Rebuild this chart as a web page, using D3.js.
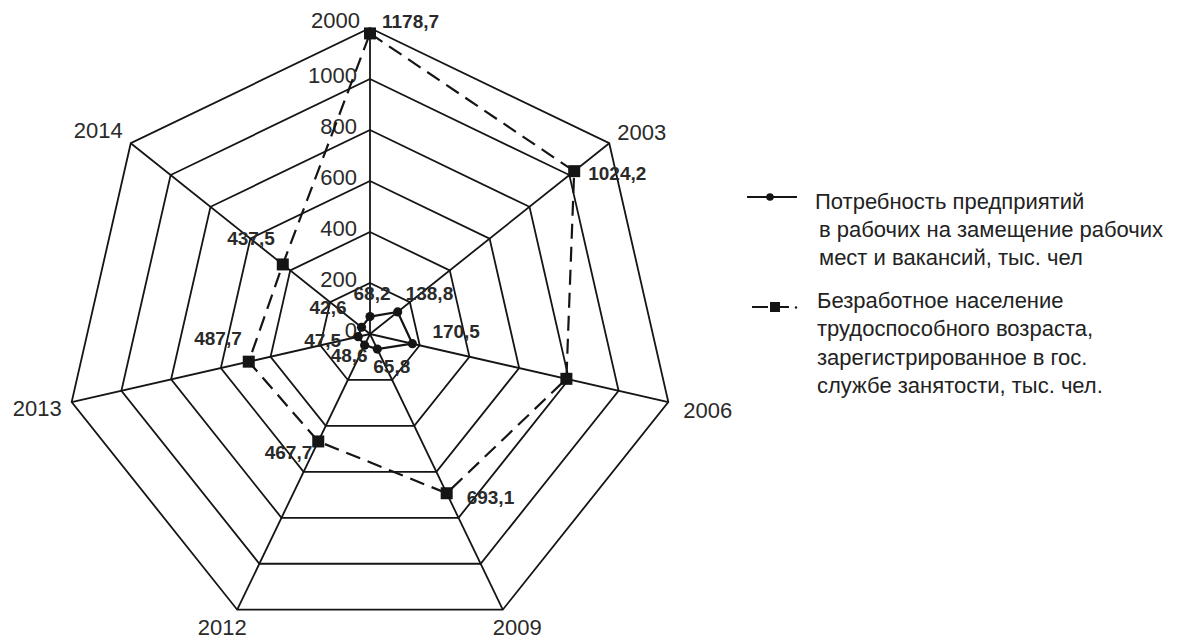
<!DOCTYPE html>
<html lang="ru">
<head>
<meta charset="utf-8">
<script src="https://cdn.jsdelivr.net/npm/d3@7"></script>
<style>
  html, body { margin: 0; padding: 0; background: #fff; }
  svg { display: block; font-family: "Liberation Sans", Arial, sans-serif; }
</style>
</head>
<body>
<svg id="chart" width="1179" height="639"></svg>
<script>
// Years on the radar spokes, clockwise from the top
const years = ["2000", "2003", "2006", "2009", "2012", "2013", "2014"];

// Demand of enterprises for workers, thousand people
const demand = [68.2, 138.8, 170.5, 65.8, 48.6, 47.5, 42.6];
const demandLabels = ["68,2", "138,8", "170,5", "65,8", "48,6", "47,5", "42,6"];

// Registered unemployed of working age, thousand people
const unemployed = [1178.7, 1024.2, 790, 693.1, 467.7, 487.7, 437.5];
const unemployedLabels = ["1178,7", "1024,2", "", "693,1", "467,7", "487,7", "437,5"];

// Radial axis
const ringValues = [200, 400, 600, 800, 1000, 1200];
const ringLabels = ["0", "200", "400", "600", "800", "1000"];
const ringLabelValues = [0, 200, 400, 600, 800, 1000];

const legendDemand = ["Потребность предприятий", "в рабочих на замещение рабочих", "мест и вакансий, тыс. чел"];
const legendUnemployed = ["Безработное население", "трудоспособного возраста,", "зарегистрированное в гос.", "службе занятости, тыс. чел."];

// ---- layout ----
const cx = 370, cy = 334, R = 306;
const ink = "#151515";
const svg = d3.select("#chart");

const r = d3.scaleLinear().domain([0, 1200]).range([0, R]);
const angle = d3.scalePoint().domain(years).range([0, 2 * Math.PI * (years.length - 1) / years.length]);

function pt(year, v) {
  const a = angle(year);
  return [cx + r(v) * Math.sin(a), cy - r(v) * Math.cos(a)];
}

const g = svg.append("g");

// concentric heptagons
const ringLine = d3.line();
g.selectAll("path.ring").data(ringValues).join("path")
  .attr("class", "ring")
  .attr("d", v => ringLine(years.map(y => pt(y, v))) + "Z")
  .attr("fill", "none").attr("stroke", ink).attr("stroke-width", 1.8)
  .attr("stroke-linejoin", "miter");

// spokes
g.selectAll("line.spoke").data(years).join("line")
  .attr("class", "spoke")
  .attr("x1", cx).attr("y1", cy)
  .attr("x2", y => pt(y, 1200)[0]).attr("y2", y => pt(y, 1200)[1])
  .attr("stroke", ink).attr("stroke-width", 1.8);

// radial tick labels along the top spoke
g.selectAll("text.ring-label").data(ringLabelValues).join("text")
  .attr("class", "ring-label")
  .attr("x", cx - 13)
  .attr("y", v => cy - r(v) + 4)
  .attr("text-anchor", "end")
  .attr("font-size", 22)
  .attr("fill", "#2a2a2a")
  .text((v, i) => ringLabels[i]);

// year labels at spoke ends
const yearOffsets = [[-10, 0, "end"], [8, -3, "start"], [15, 16, "start"], [-10, 25, "start"], [-15, 25, "middle"], [-10, 14, "end"], [-8, -5, "end"]];
g.selectAll("text.year").data(years).join("text")
  .attr("class", "year")
  .attr("x", (y, i) => pt(y, 1200)[0] + yearOffsets[i][0])
  .attr("y", (y, i) => pt(y, 1200)[1] + yearOffsets[i][1])
  .attr("text-anchor", (y, i) => yearOffsets[i][2])
  .attr("font-size", 22)
  .attr("fill", "#2a2a2a")
  .text(y => y);

// unemployed series: dashed polygon with square markers
const unemployedPts = years.map((y, i) => pt(y, unemployed[i]));
g.append("path")
  .attr("d", d3.line()(unemployedPts) + "Z")
  .attr("fill", "none").attr("stroke", ink).attr("stroke-width", 2.2)
  .attr("stroke-dasharray", "15,8");

// demand series: solid polygon with dots
const demandPts = years.map((y, i) => pt(y, demand[i]));
g.append("path")
  .attr("d", d3.line()(demandPts) + "Z")
  .attr("fill", "none").attr("stroke", ink).attr("stroke-width", 2.2);

g.selectAll("rect.sq").data(unemployedPts).join("rect")
  .attr("class", "sq")
  .attr("x", d => d[0] - 6).attr("y", d => d[1] - 6)
  .attr("width", 12).attr("height", 12)
  .attr("fill", ink);

g.selectAll("circle.dot").data(demandPts).join("circle")
  .attr("class", "dot")
  .attr("cx", d => d[0]).attr("cy", d => d[1]).attr("r", 4.6)
  .attr("fill", ink);

// value labels
const unemployedLabelOffsets = [[12, -5, "start"], [14, 9, "start"], [0, 0, "start"], [20, 11, "start"], [-6, 18, "end"], [-7, -17, "end"], [-8, -19, "end"]];
g.selectAll("text.ulabel").data(unemployedPts).join("text")
  .attr("class", "ulabel")
  .attr("x", (d, i) => d[0] + unemployedLabelOffsets[i][0])
  .attr("y", (d, i) => d[1] + unemployedLabelOffsets[i][1])
  .attr("text-anchor", (d, i) => unemployedLabelOffsets[i][2])
  .attr("font-size", 19).attr("font-weight", "bold")
  .attr("fill", "#2a2a2a")
  .text((d, i) => unemployedLabels[i]);

const demandLabelOffsets = [[2, -17, "middle"], [8, -12, "start"], [20, -6, "start"], [-4, 24, "start"], [3, 17, "end"], [-17, 10, "end"], [-15, -13, "end"]];
g.selectAll("text.dlabel").data(demandPts).join("text")
  .attr("class", "dlabel")
  .attr("x", (d, i) => d[0] + demandLabelOffsets[i][0])
  .attr("y", (d, i) => d[1] + demandLabelOffsets[i][1])
  .attr("text-anchor", (d, i) => demandLabelOffsets[i][2])
  .attr("font-size", 19).attr("font-weight", "bold")
  .attr("fill", "#2a2a2a")
  .text((d, i) => demandLabels[i]);

// ---- legend ----
const lg = svg.append("g");
// demand entry
lg.append("line").attr("x1", 747).attr("x2", 797).attr("y1", 197).attr("y2", 197)
  .attr("stroke", ink).attr("stroke-width", 2);
lg.append("circle").attr("cx", 770).attr("cy", 197).attr("r", 3.8).attr("fill", ink);
lg.selectAll("text.ld").data(legendDemand).join("text")
  .attr("class", "ld")
  .attr("x", (d, i) => i === 0 ? 815 : 819)
  .attr("y", (d, i) => 209 + i * 28)
  .attr("font-size", 22).attr("fill", "#222")
  .text(d => d);

// unemployed entry
lg.append("line").attr("x1", 752).attr("x2", 768).attr("y1", 307).attr("y2", 307)
  .attr("stroke", ink).attr("stroke-width", 2);
lg.append("rect").attr("x", 770).attr("y", 302).attr("width", 10).attr("height", 10).attr("fill", ink);
lg.append("line").attr("x1", 780).attr("x2", 789).attr("y1", 307).attr("y2", 307)
  .attr("stroke", ink).attr("stroke-width", 2);
lg.append("circle").attr("cx", 796).attr("cy", 307.5).attr("r", 1.2).attr("fill", ink);
lg.selectAll("text.lu").data(legendUnemployed).join("text")
  .attr("class", "lu")
  .attr("x", 817)
  .attr("y", (d, i) => 308 + i * 28.3)
  .attr("font-size", 22).attr("fill", "#222")
  .text(d => d);
</script>
</body>
</html>
